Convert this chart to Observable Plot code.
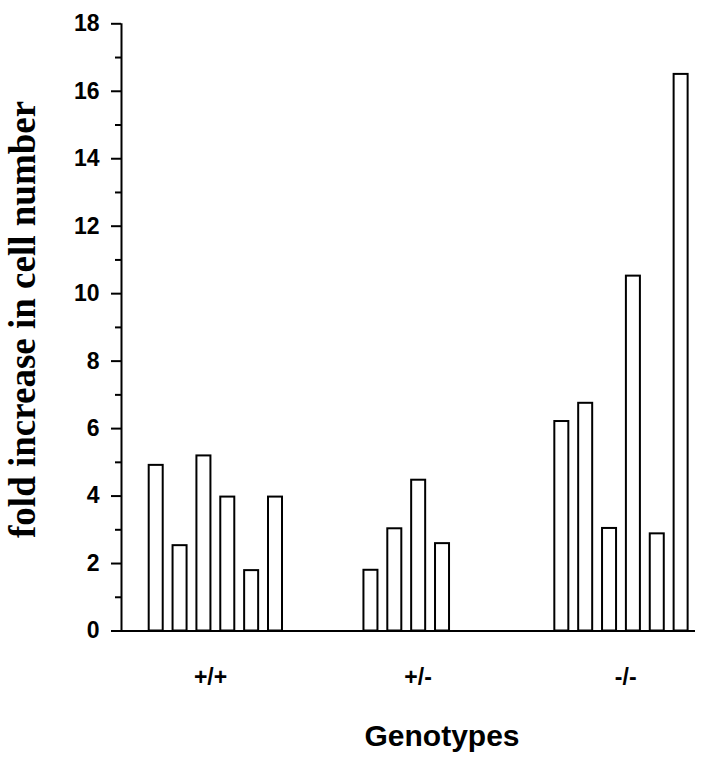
<!DOCTYPE html>
<html>
<head>
<meta charset="utf-8">
<script src="https://cdn.jsdelivr.net/npm/d3@7"></script>
<script src="https://cdn.jsdelivr.net/npm/@observablehq/plot@0.6"></script>
<style>
  html, body { margin: 0; padding: 0; background: #fff; }
  #chart svg { display: block; }
</style>
</head>
<body>
<div id="chart"></div>
<script>
// ---- data ----
const genotypes = ["+/+", "+/-", "-/-"];
const wildType = [4.91, 2.53, 5.19, 3.97, 1.79, 3.97];
const heterozygous = [1.80, 3.03, 4.47, 2.59];
const knockout = [6.21, 6.75, 3.04, 10.52, 2.88, 16.5];
const yTicks = [0, 2, 4, 6, 8, 10, 12, 14, 16, 18];
const yTitle = "fold increase in cell number";
const xTitle = "Genotypes";

// ---- layout ----
const groupStart = [0, 9, 17];      // first slot of each genotype group
const barWidth = 0.587;             // in slot units
const xDomain = [-1.161, 22.896];
const yDomain = [0, 18];
const labelPos = genotypes.map((_, g) => 2.57 + 8.7 * g);

const seriesList = [wildType, heterozygous, knockout];
const bars = seriesList.flatMap((vals, g) =>
  vals.map((v, i) => ({genotype: genotypes[g], x1: groupStart[g] + i, x2: groupStart[g] + i + barWidth, value: v}))
);
const minorTicks = d3.range(1, 18, 2);
const sans = "'Liberation Sans', Arial, Helvetica, sans-serif";
const serif = "'Liberation Serif', 'Times New Roman', Times, serif";

const chart = Plot.plot({
  width: 707,
  height: 764,
  marginTop: 23.3,
  marginBottom: 133.5,
  marginLeft: 121,
  marginRight: 12,
  style: {fontFamily: sans, background: "#fff", color: "#000", overflow: "visible"},
  x: {type: "linear", domain: xDomain, axis: null},
  y: {domain: yDomain},
  marks: [
    Plot.rectY(bars, {x1: "x1", x2: "x2", y: "value", fill: "white", stroke: "black", strokeWidth: 2}),
    Plot.ruleY([0], {stroke: "black", strokeWidth: 2}),
    Plot.ruleX([xDomain[0]], {y1: yDomain[0], y2: yDomain[1], stroke: "black", strokeWidth: 2}),
    Plot.axisY(yTicks, {tickSize: 10, tickPadding: 12, fontSize: 23, fontWeight: "bold", strokeWidth: 2, label: null, fill: "black"}),
    Plot.axisY(minorTicks, {tickSize: 6, tickFormat: () => "", strokeWidth: 2, label: null}),
    Plot.text(genotypes, {x: (d, i) => labelPos[i], frameAnchor: "bottom", text: d => d, textAnchor: "middle", lineAnchor: "top", dy: 38, fontSize: 23, fontWeight: "bold", fill: "black"}),
    Plot.text([yTitle], {frameAnchor: "left", text: d => d, textAnchor: "middle", lineAnchor: "middle", rotate: -90, dx: -98, dy: -8, fontSize: 37, fontWeight: "bold", fontFamily: serif, fill: "black"}),
    Plot.text([xTitle], {frameAnchor: "bottom", text: d => d, textAnchor: "middle", lineAnchor: "middle", dx: 33.5, dy: 105, fontSize: 30, fontWeight: "bold", fill: "black"})
  ]
});
document.getElementById("chart").appendChild(chart);
</script>
</body>
</html>
